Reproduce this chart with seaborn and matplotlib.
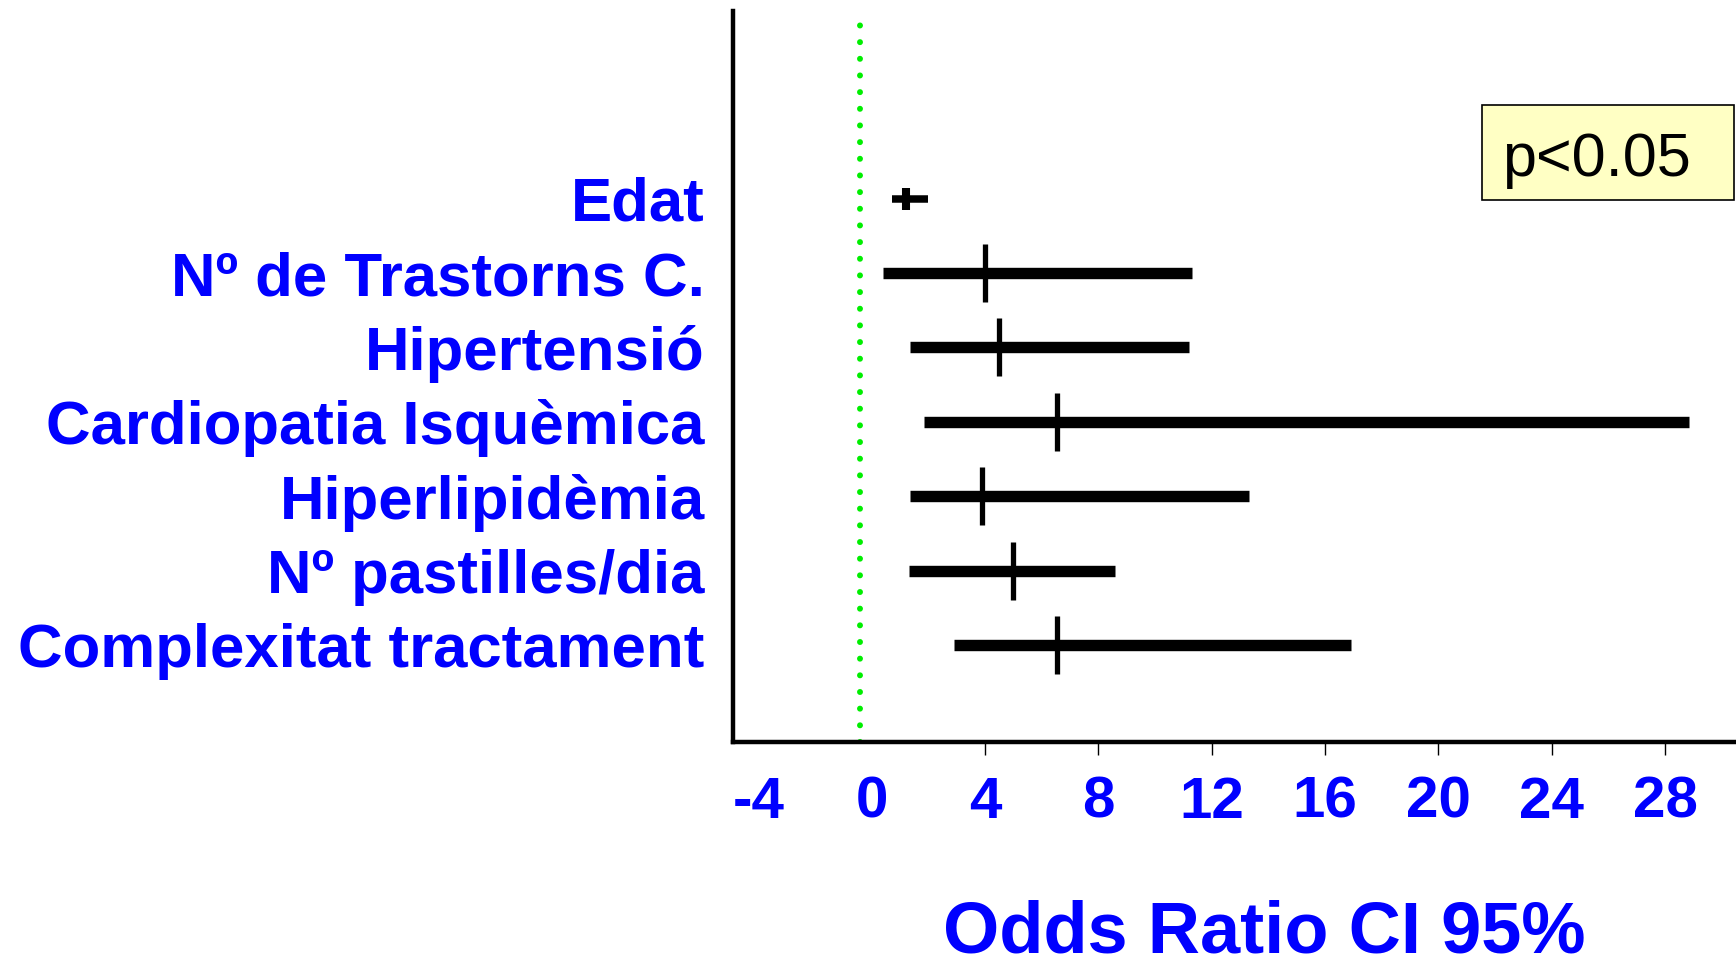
import matplotlib
matplotlib.use("Agg")
import matplotlib.pyplot as plt
import matplotlib.patches as mpatches
from matplotlib.ticker import FixedLocator
import seaborn as sns
import pandas as pd

# ---- data ----
labels = ["Edat", "Nº de Trastorns C.", "Hipertensió", "Cardiopatia Isquèmica",
          "Hiperlipidèmia", "Nº pastilles/dia", "Complexitat tractament"]
odds_ratio = [1.2, 4.0, 4.5, 6.55, 3.9, 5.0, 6.55]
ci_low = [0.7, 0.4, 1.35, 1.85, 1.35, 1.3, 2.9]
ci_high = [2.0, 11.3, 11.2, 28.85, 13.3, 8.6, 16.9]
marker_kind = ["small", "large", "large", "large", "large", "large", "large"]
x_ticks = [-4, 0, 4, 8, 12, 16, 20, 24, 28]
x_ticklabels = ["-4", "0", "4", "8", "12", "16", "20", "24", "28"]
ref_line = -0.4
xlabel = "Odds Ratio CI 95%"
note = "p<0.05"

pos = list(range(len(labels)))
ci_long = pd.DataFrame({
    "label": labels + labels,
    "pos": pos + pos,
    "value": ci_low + ci_high,
    "kind": marker_kind + marker_kind,
})
points = pd.DataFrame({"label": labels, "pos": pos, "or": odds_ratio, "kind": marker_kind})

sns.set_theme(style="white")
plt.rcParams["font.family"] = ["Liberation Sans", "DejaVu Sans"]

fig = plt.figure(figsize=(17.36, 9.64), dpi=100)
ax = fig.add_axes([0.422, 0.230, 0.578, 0.759])

BLUE = "#0000FF"

# reference line
ax.axvline(ref_line, ymin=0, ymax=0.982, color="#00EE00", lw=4.3,
           linestyle=(0, (0.01, 2.78)), dash_capstyle="round", zorder=1)

# CI bars
sns.lineplot(data=ci_long, x="value", y="pos", units="label", estimator=None,
             size="kind", sizes={"small": 5.4, "large": 8.2}, color="black",
             legend=False, ax=ax, solid_capstyle="butt", zorder=3)

# odds-ratio tick marks
sns.scatterplot(data=points[points["kind"] == "large"], x="or", y="pos", s=1750,
                marker="|", color="black", linewidth=3.8, legend=False, ax=ax, zorder=4)
sns.scatterplot(data=points[points["kind"] == "small"], x="or", y="pos", s=250,
                marker="|", color="black", linewidth=5.8, legend=False, ax=ax, zorder=4)

ax.set_xlim(-4.91, 30.5)
ax.set_ylim(7.31, -2.53)

ax.set_yticks(pos)
ax.set_yticklabels(labels)
ax.xaxis.remove_overlapping_locs = False
ax.xaxis.set_major_locator(FixedLocator(x_ticks))
ax.set_xticklabels(x_ticklabels)
ax.xaxis.set_minor_locator(FixedLocator([t for t in x_ticks if t > 0]))

ax.tick_params(axis="y", length=0, pad=20, labelsize=44.5, labelcolor=BLUE)
ax.tick_params(axis="x", which="major", length=0, pad=24, labelsize=42, labelcolor=BLUE)
ax.tick_params(axis="x", which="minor", bottom=True, length=9.5, width=1, color="black")
for t in ax.get_xticklabels() + ax.get_yticklabels():
    t.set_fontweight("bold")

ax.set_xlabel("")
ax.set_ylabel("")
for s in ["top", "right"]:
    ax.spines[s].set_visible(False)
for s in ["left", "bottom"]:
    ax.spines[s].set_color("black")
    ax.spines[s].set_linewidth(3.2)

fig.text(0.728, 0.012, xlabel, ha="center", va="baseline", fontsize=52,
         fontweight="bold", color=BLUE)

# p-value box
rect = mpatches.Rectangle((0.8537, 0.7925), 0.1452, 0.0985, transform=fig.transFigure,
                          facecolor="#FFFFC4", edgecolor="black", lw=1.2, zorder=5)
fig.patches.append(rect)
fig.text(0.865, 0.834, note, ha="left", va="center", fontsize=44, color="black", zorder=6)

fig.savefig("out.png", dpi=100, facecolor="white")
